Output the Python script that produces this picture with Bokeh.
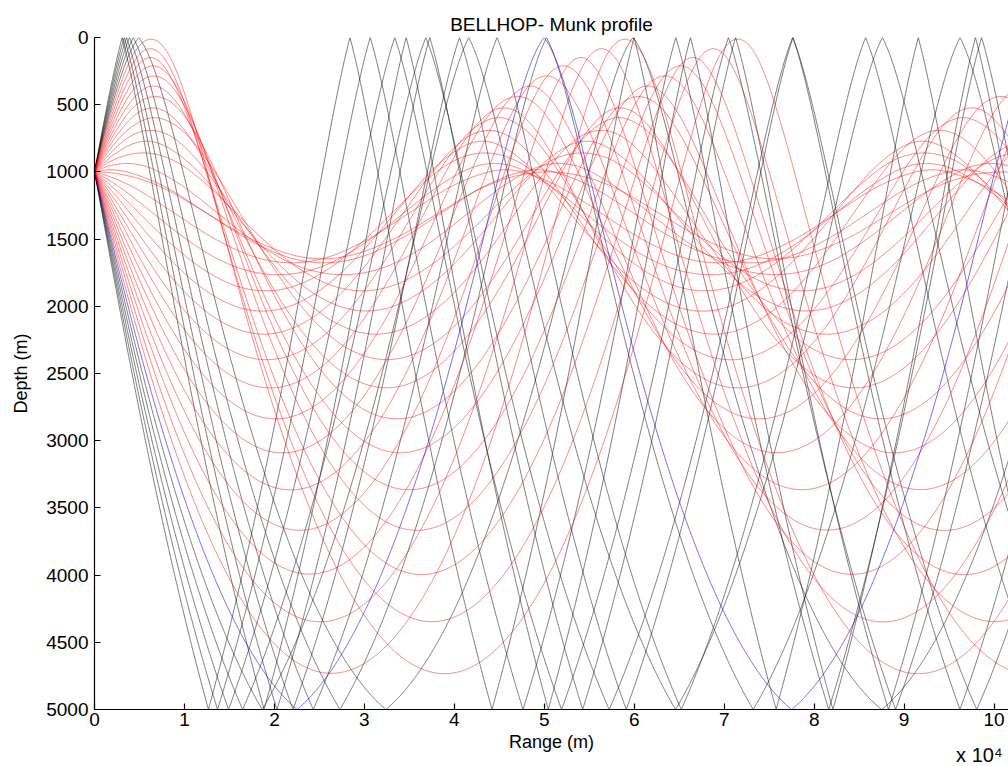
import numpy as np
from bokeh.plotting import figure
from bokeh.models import Range1d, FixedTicker, Title
from bokeh.embed import file_html
from bokeh.resources import INLINE

# ---------------- data ----------------
title_text = "BELLHOP- Munk profile"
x_label = "Range (m)"
y_label = "Depth (m)"
x_ticks = [0, 1, 2, 3, 4, 5, 6, 7, 8, 9, 10]          # units of 10^4 m
y_ticks = [0, 500, 1000, 1500, 2000, 2500, 3000, 3500, 4000, 4500, 5000]
x_multiplier = "x 10\u2074"

# Munk sound-speed profile (depth m, speed m/s)
ssp_depth = [0, 200, 250, 400, 600, 800, 1000, 1200, 1400, 1600, 1800, 2000, 2200,
             2400, 2600, 2800, 3000, 3200, 3400, 3600, 3800, 4000, 4200, 4400,
             4600, 4800, 5000]
ssp_speed = [1548.52, 1530.29, 1526.69, 1517.78, 1509.49, 1504.30, 1501.38,
             1500.14, 1500.12, 1501.02, 1502.57, 1504.62, 1507.02, 1509.69,
             1512.55, 1515.56, 1518.67, 1521.85, 1525.10, 1528.38, 1531.70,
             1535.04, 1538.39, 1541.76, 1545.14, 1548.52, 1551.91]

source_depth = 1000.0
bottom_depth = 5000.0
n_beams = 41
angle_first = -20.0
angle_last = 20.0
max_range = 101700.0
range_scale = 1e4

# ---------------- ray trace ----------------
zs = np.array(ssp_depth, float)
cs = np.array(ssp_speed, float)
grad = np.diff(cs) / np.diff(zs)


def ssp(z):
    zc = np.clip(z, 0.0, bottom_depth)
    i = np.clip(np.searchsorted(zs, zc, side="right") - 1, 0, len(grad) - 1)
    return cs[i] + grad[i] * (zc - zs[i]), grad[i]


angles = np.linspace(angle_first, angle_last, n_beams)
th = np.radians(angles)
c0, _ = ssp(np.full(n_beams, source_depth))
r = np.zeros(n_beams)
z = np.full(n_beams, source_depth)
xi = np.cos(th) / c0
ze = np.sin(th) / c0
ds = 10.0

paths = [[(0.0, source_depth)] for _ in range(n_beams)]
ntop = np.zeros(n_beams, int)
nbot = np.zeros(n_beams, int)
step = 0
active = np.ones(n_beams, bool)
while active.any():
    step += 1
    c1, g1 = ssp(z)
    zm = z + 0.5 * ds * c1 * ze
    zem = ze - 0.5 * ds * g1 / c1 ** 2
    cm, gm = ssp(zm)
    rn = r + ds * cm * xi
    zn = z + ds * cm * zem
    zen = ze - ds * gm / cm ** 2
    for k in np.nonzero(active)[0]:
        if zn[k] < 0.0:
            t = z[k] / (z[k] - zn[k])
            paths[k].append((r[k] + t * (rn[k] - r[k]), 0.0))
            zn[k] = -zn[k]
            zen[k] = -zen[k]
            ntop[k] += 1
        elif zn[k] > bottom_depth:
            t = (bottom_depth - z[k]) / (zn[k] - z[k])
            paths[k].append((r[k] + t * (rn[k] - r[k]), bottom_depth))
            zn[k] = 2 * bottom_depth - zn[k]
            zen[k] = -zen[k]
            nbot[k] += 1
        if step % 3 == 0:
            paths[k].append((rn[k], zn[k]))
    r = np.where(active, rn, r)
    z = np.where(active, zn, z)
    ze = np.where(active, zen, ze)
    active = r < max_range

# shallowest downward bottom-bouncing ray is drawn in blue
cand = [k for k in range(n_beams) if angles[k] > 0 and nbot[k] > 0]
kb = min(cand, key=lambda k: angles[k]) if cand else -1

groups = {"red": ([], []), "black": ([], []), "blue": ([], [])}
for k in range(n_beams):
    pts = np.array(paths[k])
    xs = list(pts[:, 0] / range_scale)
    ys = list(pts[:, 1])
    if k == kb:
        key = "blue"
    elif ntop[k] == 0 and nbot[k] == 0:
        key = "red"
    else:
        key = "black"
    groups[key][0].append(xs)
    groups[key][1].append(ys)

# ---------------- figure ----------------
p = figure(width=1008, height=766, x_range=Range1d(0, 10.16),
           y_range=Range1d(5000, 0), output_backend="svg",
           toolbar_location=None, min_border_left=94, min_border_right=0,
           min_border_top=37, min_border_bottom=57)
p.outline_line_color = None
p.grid.visible = False
p.background_fill_color = "white"

p.multi_line(groups["black"][0], groups["black"][1], line_color="black",
             line_alpha=0.52, line_width=1.0)
p.multi_line(groups["red"][0], groups["red"][1], line_color="#ff0000",
             line_alpha=0.5, line_width=1.0)
p.multi_line(groups["blue"][0], groups["blue"][1], line_color="#0000ff",
             line_alpha=0.6, line_width=1.0)

font = "Liberation Sans"
p.title.text = title_text
p.title.align = "center"
p.title.vertical_align = "top"
p.title.standoff = 2
p.title.text_font = font
p.title.text_font_size = "19px"
p.title.text_font_style = "normal"
p.title.text_color = "black"

for ax in (p.xaxis[0], p.yaxis[0]):
    ax.major_tick_in = 6
    ax.major_tick_out = 0
    ax.minor_tick_line_color = None
    ax.axis_line_width = 1.2
    ax.major_tick_line_width = 1.2
    ax.major_label_text_font = font
    ax.major_label_text_font_size = "19px"
    ax.major_label_text_color = "black"
    ax.axis_label_text_font = font
    ax.axis_label_text_font_size = "18px"
    ax.axis_label_text_font_style = "normal"
    ax.axis_label_text_color = "black"

p.xaxis[0].ticker = FixedTicker(ticks=x_ticks)
p.yaxis[0].ticker = FixedTicker(ticks=y_ticks)
p.xaxis[0].axis_label = x_label
p.yaxis[0].axis_label = y_label
p.xaxis[0].major_label_standoff = 3
p.xaxis[0].axis_label_standoff = 3
p.yaxis[0].major_label_standoff = 6
p.yaxis[0].axis_label_standoff = 12

mult = Title(text=x_multiplier, align="right", vertical_align="top",
             offset=6, standoff=-22, text_font=font, text_font_size="20px",
             text_font_style="normal", text_color="black")
p.add_layout(mult, "below")

open("out.html", "w").write(file_html(p, INLINE))
